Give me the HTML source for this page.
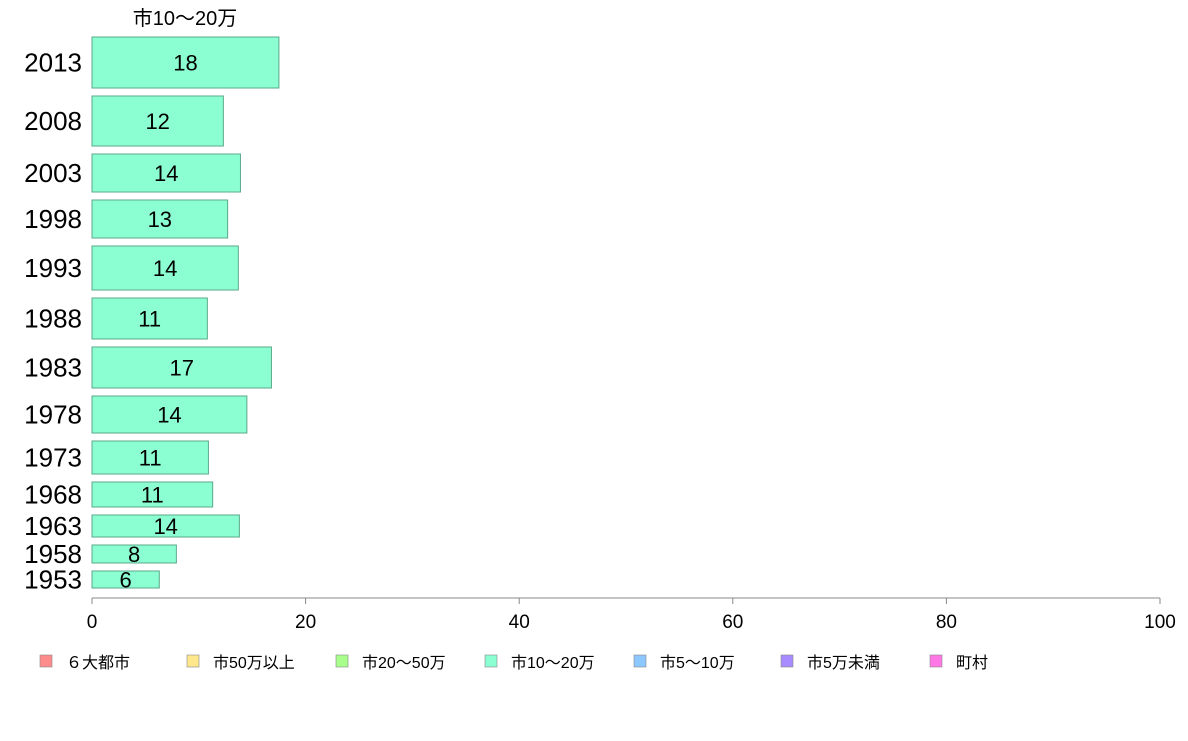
<!DOCTYPE html>
<html><head><meta charset="utf-8"><style>
body{margin:0;background:#fff;font-family:"Liberation Sans","Noto Sans CJK JP",sans-serif;}
</style></head><body>
<svg width="1188" height="736" xmlns="http://www.w3.org/2000/svg" style="font-family:'Liberation Sans','Noto Sans CJK JP',sans-serif">
<text x="185" y="25" text-anchor="middle" font-size="20">市10〜20万</text>
<g id="bars"></g>
<g id="axis"></g>
<g id="legend"></g>
</svg>
<script>
const years=["2013","2008","2003","1998","1993","1988","1983","1978","1973","1968","1963","1958","1953"];
const values=[17.5,12.3,13.9,12.7,13.7,10.8,16.8,14.5,10.9,11.3,13.8,7.9,6.3];
const labels=["18","12","14","13","14","11","17","14","11","11","14","8","6"];
const weights=[51,50,38,38,44,41,41,37,33,25,22,18,17];
const ticks=[0,20,40,60,80,100];
const legendNames=["６大都市","市50万以上","市20〜50万","市10〜20万","市5〜10万","市5万未満","町村"];
const legendColors=["#ff8c8c","#ffe88c","#a8ff8c","#8cffd2","#8cc8ff","#a88cff","#ff78e6"];
const NS="http://www.w3.org/2000/svg";
const x0=92,x1=1160,yTop=37,yBot=588,gap=8;
const xs=v=>x0+(x1-x0)*v/100;
const totalW=weights.reduce((a,b)=>a+b,0);
const unit=(yBot-yTop-gap*(weights.length-1))/totalW;
function mk(t,a,p){const e=document.createElementNS(NS,t);for(const k in a)e.setAttribute(k,a[k]);p.appendChild(e);return e;}
const gb=document.getElementById('bars');
let y=yTop;
years.forEach((yr,i)=>{
 const h=weights[i]*unit;
 const r=mk('rect',{x:x0,y:y,width:xs(values[i])-x0,height:h,fill:'#8cffd2',stroke:'#5aa88a','stroke-width':1},gb);
 
 
 const t=mk('text',{x:(x0+xs(values[i]))/2,y:y+h/2+8,'text-anchor':'middle','font-size':22},gb);
 t.textContent=labels[i];
 
 
 const l=mk('text',{x:82,y:y+h/2+9,'text-anchor':'end','font-size':26},gb);
 l.textContent=yr;
 
 
 y+=h+gap;
});
const ga=document.getElementById('axis');
const ax=mk('line',{x1:x0,x2:x1,y1:598,y2:598,stroke:'#888'},ga);


ticks.forEach(v=>{
 mk('line',{x1:xs(v),x2:xs(v),y1:598,y2:604,stroke:'#888'},ga);
 const t=mk('text',{x:xs(v),y:628,'text-anchor':'middle','font-size':19},ga);
 t.textContent=v;
 
 
});
const gl=document.getElementById('legend');
const lx=[40,187,336,485,634,781,930];
legendNames.forEach((n,i)=>{
 const g=mk('g',{},gl);
 
 
 mk('rect',{x:lx[i],y:655,width:12,height:12,fill:legendColors[i],stroke:'#888','stroke-width':0.6},g);
 const t=mk('text',{x:lx[i]+26,y:668,'font-size':16},g);
 t.textContent=n;
});
</script>
</body></html>
